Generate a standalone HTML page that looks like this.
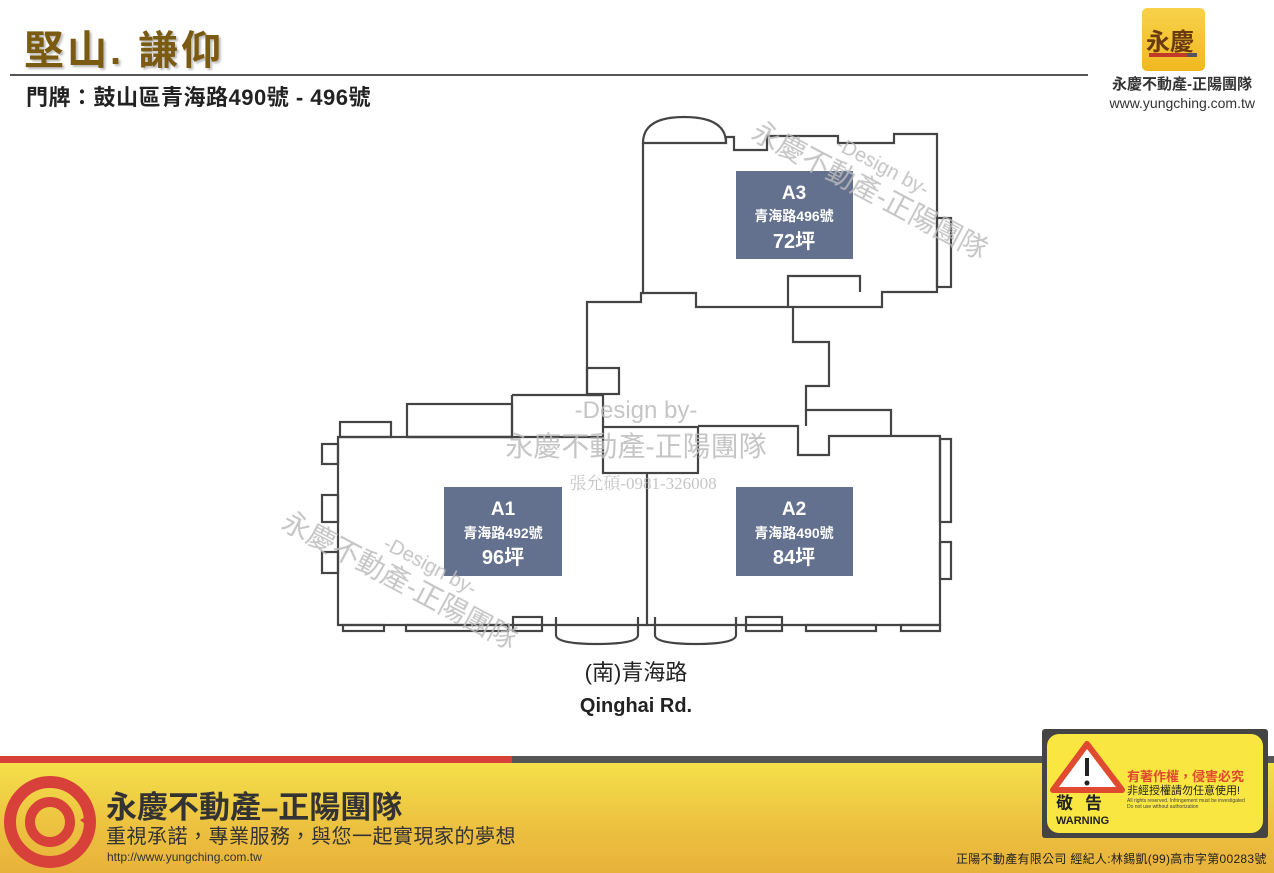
<!DOCTYPE html>
<html><head><meta charset="utf-8">
<style>
body{margin:0;width:1274px;height:873px;position:relative;overflow:hidden;background:#fff;font-family:"Liberation Sans","Noto Sans CJK TC",sans-serif;}
.abs{position:absolute;white-space:nowrap;}
</style></head><body>
<div class="abs" style="left:24px;top:18px;font-size:40px;font-weight:bold;color:#7b5a12;text-shadow:2px 2px 2px #bbb;letter-spacing:3px;">堅山. 謙仰</div>
<div style="position:absolute;left:10px;top:74px;width:1078px;height:2px;background:#555"></div>
<div class="abs" style="left:26px;top:80px;font-size:22px;font-weight:bold;color:#222;letter-spacing:0.5px;">門牌：鼓山區青海路490號 - 496號</div>
<div style="position:absolute;left:1142px;top:8px;width:63px;height:63px;background:linear-gradient(#f8d24a,#f0b820);border-radius:5px;"></div>
<div class="abs" style="left:1146px;top:22px;font-size:24px;font-weight:bold;color:#6a3a10;">永慶</div>
<div style="position:absolute;left:1149px;top:53px;width:38px;height:4px;background:#c0392b"></div>
<div style="position:absolute;left:1187px;top:53px;width:10px;height:4px;background:#555"></div>
<div class="abs" style="right:22px;top:76px;font-size:15px;font-weight:bold;color:#333;line-height:17px;">永慶不動產-正陽團隊</div>
<div class="abs" style="right:19px;top:95px;font-size:14px;color:#333;line-height:16px;">www.yungching.com.tw</div>

<svg style="position:absolute;left:0;top:0" width="1274" height="873">
<g fill="none" stroke="#444" stroke-width="2.2">
<path d="M643,143 L643,293 L641,293 L641,302 L587,302 L587,395 L603,395 L603,427"/>
<path d="M643,143 Q643,117 684,117 Q726,117 726,143 Z"/>
<path d="M726,143 L726,137 L734,137 L734,150 L767,150 L767,136 L838,136 L838,143 L894,143 L894,134 L937,134 L937,292 L882,292 L882,307 L696,307 L696,293 L643,293"/>
<path d="M788,307 L788,276 L860,276 L860,292"/>
<rect x="937" y="218" width="14" height="69"/>
<rect x="587" y="368" width="32" height="26"/>
<path d="M793,307 L793,342 L829,342 L829,386 L806,386 L806,410 L891,410 L891,436"/>
<path d="M512,437 L338,437 L338,625 L647,625"/>
<path d="M512,395 L603,395 M512,395 L512,437 L407,437"/>
<rect x="407" y="404" width="105" height="33"/>
<rect x="340" y="422" width="51" height="15"/>
<path d="M512,437 L603,437"/>
<rect x="603" y="427" width="95" height="46"/>
<path d="M698,426 L798,426 L798,455 L829,455 L829,436 L940,436 L940,625 L647,625 L647,473"/>
<path d="M806,410 L806,426"/>
<rect x="322" y="444" width="16" height="20"/>
<rect x="322" y="495" width="16" height="27"/>
<rect x="322" y="552" width="16" height="21"/>
<rect x="940" y="439" width="11" height="83"/>
<rect x="940" y="542" width="11" height="37"/>
<rect x="343" y="625" width="41" height="6"/>
<rect x="406" y="625" width="102" height="6"/>
<rect x="513" y="617" width="29" height="14"/>
<path d="M556,617 L556,635 Q556,644 597,644 Q638,644 638,635 L638,617"/>
<path d="M655,617 L655,635 Q655,644 696,644 Q736,644 736,635 L736,617"/>
<rect x="746" y="617" width="36" height="14"/>
<rect x="806" y="625" width="70" height="6"/>
<rect x="901" y="625" width="39" height="6"/>
</g>
<g fill="#63708e">
<rect x="736" y="171" width="117" height="88"/>
<rect x="444" y="487" width="118" height="89"/>
<rect x="736" y="487" width="117" height="89"/>
</g>
<g fill="#fff" font-family="Liberation Sans,Noto Sans CJK TC,sans-serif" font-weight="bold" text-anchor="middle">
<text x="794" y="199" font-size="19">A3</text>
<text x="794" y="221" font-size="14">青海路496號</text>
<text x="794" y="248" font-size="20">72坪</text>
<text x="503" y="515" font-size="19">A1</text>
<text x="503" y="538" font-size="14">青海路492號</text>
<text x="503" y="564" font-size="20">96坪</text>
<text x="794" y="515" font-size="19">A2</text>
<text x="794" y="538" font-size="14">青海路490號</text>
<text x="794" y="564" font-size="20">84坪</text>
</g>
<g fill="#bbb" font-family="Liberation Sans,Noto Sans CJK TC,sans-serif" text-anchor="middle" opacity="0.85">
<text x="636" y="418" font-size="24">-Design by-</text>
<text x="636" y="456" font-size="28">永慶不動產-正陽團隊</text>
<text x="643" y="489" font-size="17" font-family="Liberation Serif,Noto Serif CJK SC,serif">張允碩-0981-326008</text>
<g transform="rotate(28 870 190)"><text x="870" y="170" font-size="20">-Design by-</text><text x="870" y="200" font-size="28">永慶不動產-正陽團隊</text></g>
<g transform="rotate(28 400 580)"><text x="420" y="560" font-size="20">-Design by-</text><text x="400" y="590" font-size="28">永慶不動產-正陽團隊</text></g>
</g>
<g font-family="Liberation Sans,Noto Sans CJK TC,sans-serif" fill="#222" text-anchor="middle">
<text x="636" y="680" font-size="22">(南)青海路</text>
<text x="636" y="712" font-size="20" font-weight="bold">Qinghai Rd.</text>
</g>
</svg>

<div style="position:absolute;left:0;top:756px;width:512px;height:7px;background:#d8403a"></div>
<div style="position:absolute;left:512px;top:756px;width:762px;height:7px;background:#555"></div>
<div style="position:absolute;left:0;top:763px;width:1274px;height:110px;background:linear-gradient(#f4e04a,#ecc040 60%,#e8b23a)"></div>
<svg style="position:absolute;left:0;top:772px" width="100" height="100">
<circle cx="50" cy="50" r="40" fill="none" stroke="#d8403a" stroke-width="12"/>
<circle cx="50" cy="50" r="20" fill="none" stroke="#d8403a" stroke-width="10"/>
<path d="M80,48 L95,40 L95,60 Z" fill="#d8403a"/>
</svg>
<div class="abs" style="left:106px;top:782px;font-size:31px;font-weight:bold;color:#333;">永慶不動產–正陽團隊</div>
<div class="abs" style="left:106px;top:820px;font-size:20px;color:#333;letter-spacing:0.5px;">重視承諾，專業服務，與您一起實現家的夢想</div>
<div class="abs" style="left:107px;top:850px;font-size:12px;color:#333;">http://www.yungching.com.tw</div>
<div class="abs" style="left:956px;top:850px;font-size:12px;color:#222;letter-spacing:0.3px;">正陽不動產有限公司 經紀人:林錫凱(99)高市字第00283號</div>

<div style="position:absolute;left:1042px;top:729px;width:226px;height:109px;background:#444;border-radius:3px;"></div>
<div style="position:absolute;left:1047px;top:734px;width:216px;height:99px;background:#f9e640;border-radius:12px;"></div>
<svg style="position:absolute;left:1050px;top:740px" width="80" height="60">
<path d="M37,4 L72,50 L3,50 Z" fill="#fff" stroke="#e04a30" stroke-width="6" stroke-linejoin="round"/>
<rect x="35" y="18" width="4" height="18" fill="#222"/><circle cx="37" cy="43" r="2.5" fill="#222"/>
</svg>
<div class="abs" style="left:1056px;top:794px;font-size:17px;font-weight:bold;color:#222;letter-spacing:12px;line-height:20px;">敬告</div>
<div class="abs" style="left:1056px;top:815px;font-size:11px;font-weight:bold;color:#222;">WARNING</div>
<div class="abs" style="left:1127px;top:766px;font-size:13px;font-weight:bold;color:#e04a30;">有著作權，侵害必究</div>
<div class="abs" style="left:1127px;top:782px;font-size:11px;color:#222;">非經授權請勿任意使用!</div>
<div class="abs" style="left:1127px;top:798px;font-size:5px;color:#444;">All rights reserved. Infringement must be investigated<br>Do not use without authorization</div>
</body></html>
